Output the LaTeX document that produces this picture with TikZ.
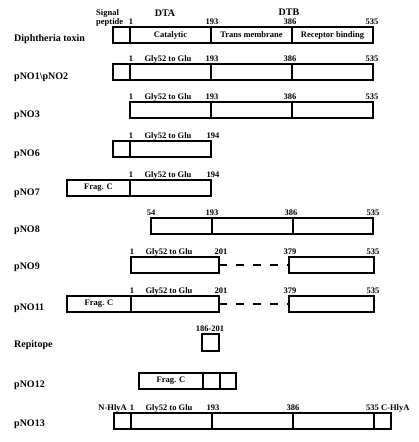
\documentclass[tikz,border=0pt]{standalone}
\usepackage{fontspec}
\setmainfont{Liberation Serif}
\begin{document}
\begin{tikzpicture}[x=1pt,y=-1pt,
  seg/.style={draw, line width=1.2pt, inner sep=0pt, outer sep=0pt, anchor=north west,
    minimum height=16pt, font=\fontsize{8.5}{10}\selectfont\bfseries},
  rowlab/.style={anchor=base west, inner sep=0pt, font=\fontsize{10}{12}\selectfont\bfseries},
  num/.style={anchor=base, inner sep=0pt, font=\fontsize{8.5}{10}\selectfont\bfseries},
  domlab/.style={anchor=base, inner sep=0pt, font=\fontsize{10}{12}\selectfont\bfseries},
  gap/.style={line width=1.2pt, dash pattern=on 8pt off 9pt}]
\useasboundingbox (0,0) rectangle (418,442);
% ---------- Diphtheria toxin
\node[rowlab] (lDT) at (14,41) {Diphtheria toxin};
\node[seg, minimum width=17pt] (dt0) at (113,27) {};
\node[seg, minimum width=81pt] (dt1) at (130,27) {Catalytic};
\node[seg, minimum width=81pt] (dt2) at (211,27) {Trans membrane};
\node[seg, minimum width=81pt] (dt3) at (292,27) {Receptor binding};
\node[anchor=base west, inner sep=0pt, align=left, font=\fontsize{8.5}{8.5}\selectfont\bfseries] (sig) at (96,24) {Signal\\peptide};
\node[domlab] (dta) at (165,16) {DTA};
\node[domlab] (dtb) at (289,15) {DTB};
\node[num] (dtn1) at (131,24) {1};
\node[num] (dtn2) at (212,24) {193};
\node[num] (dtn3) at (290,24) {386};
\node[num] (dtn4) at (372,24) {535};
% ---------- pNO1\pNO2
\node[rowlab] (l1) at (14,79) {pNO1\textbackslash pNO2};
\node[seg, minimum width=17pt] (a0) at (113,64) {};
\node[seg, minimum width=81pt] (a1) at (130,64) {};
\node[seg, minimum width=81pt] (a2) at (211,64) {};
\node[seg, minimum width=81pt] (a3) at (292,64) {};
\node[num] (an1) at (131,61) {1};
\node[num] (ang) at (168,61) {Gly52 to Glu};
\node[num] (an2) at (212,61) {193};
\node[num] (an3) at (290,61) {386};
\node[num] (an4) at (372,61) {535};
% ---------- pNO3
\node[rowlab] (l3) at (14,117.5) {pNO3};
\node[seg, minimum width=81pt] (b1) at (130,102) {};
\node[seg, minimum width=81pt] (b2) at (211,102) {};
\node[seg, minimum width=81pt] (b3) at (292,102) {};
\node[num] (bn1) at (131,99) {1};
\node[num] (bng) at (168,99) {Gly52 to Glu};
\node[num] (bn2) at (212,99) {193};
\node[num] (bn3) at (290,99) {386};
\node[num] (bn4) at (372,99) {535};
% ---------- pNO6
\node[rowlab] (l6) at (14,156) {pNO6};
\node[seg, minimum width=17pt] (c0) at (113,141) {};
\node[seg, minimum width=81pt] (c1) at (130,141) {};
\node[num] (cn1) at (131,138) {1};
\node[num] (cng) at (168,138) {Gly52 to Glu};
\node[num] (cn2) at (213,138) {194};
% ---------- pNO7
\node[rowlab] (l7) at (14,195) {pNO7};
\node[seg, minimum width=63pt] (d0) at (67,180) {Frag. C};
\node[seg, minimum width=81pt] (d1) at (130,180) {};
\node[num] (dn1) at (131,177) {1};
\node[num] (dng) at (168,177) {Gly52 to Glu};
\node[num] (dn2) at (213,177) {194};
% ---------- pNO8
\node[rowlab] (l8) at (14,232.5) {pNO8};
\node[seg, minimum width=61pt] (e1) at (151,218) {};
\node[seg, minimum width=81pt] (e2) at (212,218) {};
\node[seg, minimum width=80pt] (e3) at (293,218) {};
\node[num] (en1) at (151,215) {54};
\node[num] (en2) at (212,215) {193};
\node[num] (en3) at (291,215) {386};
\node[num] (en4) at (373,215) {535};
% ---------- pNO9
\node[rowlab] (l9) at (14,269.5) {pNO9};
\node[seg, minimum width=88pt] (f1) at (131,257) {};
\node[seg, minimum width=85pt] (f2) at (289,257) {};
\draw[gap] (f1.east) -- (f2.west);
\node[num] (fn1) at (132,254) {1};
\node[num] (fng) at (169,254) {Gly52 to Glu};
\node[num] (fn2) at (221,254) {201};
\node[num] (fn3) at (290,254) {379};
\node[num] (fn4) at (373,254) {535};
% ---------- pNO11
\node[rowlab] (l11) at (14,310.5) {pNO11};
\node[seg, minimum width=64pt] (g0) at (67,296) {Frag. C};
\node[seg, minimum width=88pt] (g1) at (131,296) {};
\node[seg, minimum width=85pt] (g2) at (289,296) {};
\draw[gap] (g1.east) -- (g2.west);
\node[num] (gn1) at (132,293) {1};
\node[num] (gng) at (169,293) {Gly52 to Glu};
\node[num] (gn2) at (221,293) {201};
\node[num] (gn3) at (290,293) {379};
\node[num] (gn4) at (373,293) {535};
% ---------- Repitope
\node[rowlab] (lR) at (14,347.5) {Repitope};
\node[seg, minimum width=17pt, minimum height=17pt] (r0) at (202,334) {};
\node[num] (rn) at (210,331) {186-201};
% ---------- pNO12
\node[rowlab] (l12) at (14,387) {pNO12};
\node[seg, minimum width=64pt] (h0) at (139,373) {Frag. C};
\node[seg, minimum width=17pt] (h1) at (203,373) {};
\node[seg, minimum width=16pt] (h2) at (220,373) {};
% ---------- pNO13
\node[rowlab] (l13) at (14,426.5) {pNO13};
\node[seg, minimum width=17pt] (k0) at (114,413) {};
\node[seg, minimum width=81pt] (k1) at (131,413) {};
\node[seg, minimum width=81pt] (k2) at (212,413) {};
\node[seg, minimum width=81pt] (k3) at (293,413) {};
\node[seg, minimum width=17pt] (k4) at (374,413) {};
\node[num, anchor=base east] (kn0) at (127,410) {N-HlyA};
\node[num] (kn1) at (132,410) {1};
\node[num] (kng) at (169,410) {Gly52 to Glu};
\node[num] (kn2) at (213,410) {193};
\node[num] (kn3) at (293,410) {386};
\node[num, anchor=base west] (kn4) at (366,410) {535 C-HlyA};
\end{tikzpicture}
\end{document}
